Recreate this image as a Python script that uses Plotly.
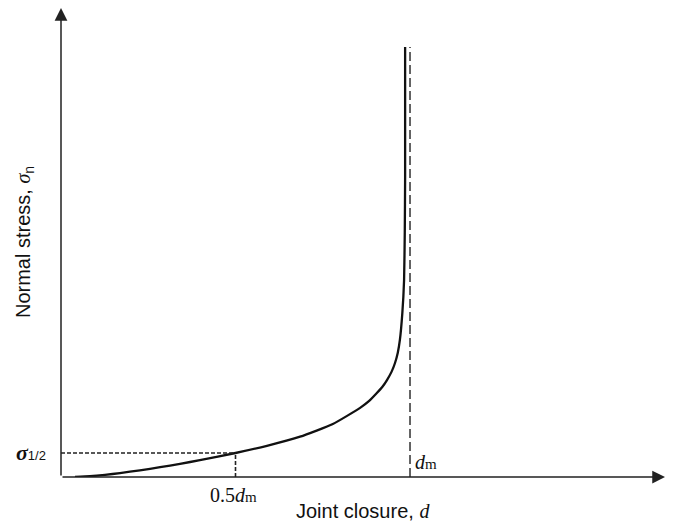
import plotly.graph_objects as go

# Joint closure d (in units of the maximum closure d_m) and normal stress
# (in units of sigma_1/2, the stress at half of the maximum closure)
closure_d = [0.040, 0.083, 0.126, 0.169, 0.226, 0.284, 0.341, 0.398, 0.5,
             0.590, 0.685, 0.779, 0.857, 0.883, 0.905, 0.921, 0.934, 0.947,
             0.957, 0.965, 0.971, 0.978, 0.983, 0.985, 0.986, 0.986]
normal_stress = [0.0, 0.031, 0.088, 0.163, 0.279, 0.408, 0.55, 0.70, 1.0,
                 1.30, 1.68, 2.21, 2.88, 3.17, 3.50, 3.76, 4.04, 4.38,
                 4.75, 5.18, 5.71, 6.83, 8.21, 10.2, 12.5, 17.92]

d_max = 1.0          # maximum closure d_m
d_half = 0.5         # 0.5 d_m
sigma_half = 1.0     # sigma_1/2
dm_line_top = 17.92

x_range = [0, 1.7564]
y_range = [0, 19.875]
axis_tip_x = 1.7307
axis_tip_y = 19.54

SANS = "Liberation Sans, Arial, sans-serif"
SERIF = "Liberation Serif, Times New Roman, serif"
INK = "#111111"
AXIS_COL = "#222222"


def px(v):
    return v / x_range[1]


def py(v):
    return v / y_range[1]


fig = go.Figure()

fig.add_trace(go.Scatter(
    x=closure_d, y=normal_stress, mode="lines",
    line=dict(color=INK, width=2.3, shape="spline", smoothing=0.5),
    hoverinfo="skip", showlegend=False,
))

# dashed guides to sigma_1/2 at 0.5 d_m
fig.add_shape(type="line", x0=0, x1=d_half, y0=sigma_half, y1=sigma_half,
              line=dict(color=AXIS_COL, width=1.6, dash="4px,2px"))
fig.add_shape(type="line", x0=d_half, x1=d_half, y0=0, y1=sigma_half,
              line=dict(color=AXIS_COL, width=1.6, dash="4px,2px"))
# asymptote at d_m
fig.add_shape(type="line", x0=d_max, x1=d_max, y0=0, y1=dm_line_top,
              line=dict(color=AXIS_COL, width=1.4, dash="9px,4px"))

# axes drawn as arrows from the origin
for tx, ty in [(axis_tip_x, 0), (0, axis_tip_y)]:
    fig.add_annotation(x=tx, y=ty, ax=0, ay=0, xref="x", yref="y",
                       axref="x", ayref="y", text="", showarrow=True,
                       arrowhead=2, arrowsize=1.7, arrowwidth=1.5,
                       arrowcolor=AXIS_COL)

# labels (paper coordinates so they may sit outside the plotting area)
fig.add_annotation(
    x=px(0.865), y=py(-1.42), xref="paper", yref="paper", showarrow=False,
    text=f"Joint closure, <span style='font-family:{SERIF}'><i>d</i></span>",
    font=dict(family=SANS, size=20, color=INK),
    xanchor="center", yanchor="middle")
fig.add_annotation(
    x=px(-0.106), y=py(9.79), xref="paper", yref="paper", showarrow=False,
    textangle=-90,
    text=f"Normal stress, <span style='font-family:{SERIF}'><i>σ</i></span><sub>n</sub>",
    font=dict(family=SANS, size=20, color=INK),
    xanchor="center", yanchor="middle")
fig.add_annotation(
    x=px(-0.037), y=py(1.04), xref="paper", yref="paper", showarrow=False,
    text=f"<span style='font-family:{SERIF};font-size:22px'><b><i>σ</i></b></span>"
         f"<span style='font-size:13px'>1/2</span>",
    font=dict(family=SANS, size=15, color=INK),
    xanchor="right", yanchor="middle")
fig.add_annotation(
    x=px(0.493), y=py(-0.75), xref="paper", yref="paper", showarrow=False,
    text="0.5<i>d</i><span style='font-size:15px'>m</span>",
    font=dict(family=SERIF, size=20, color=INK),
    xanchor="center", yanchor="middle")
fig.add_annotation(
    x=px(1.009), y=py(0.625), xref="paper", yref="paper", showarrow=False,
    text="<i>d</i><span style='font-size:15px'>m</span>",
    font=dict(family=SERIF, size=20, color=INK),
    xanchor="left", yanchor="middle")

fig.update_xaxes(range=x_range, visible=False, fixedrange=True)
fig.update_yaxes(range=y_range, visible=False, fixedrange=True)
fig.update_layout(
    width=674, height=526,
    margin=dict(l=61, r=0, t=0, b=49),
    plot_bgcolor="white", paper_bgcolor="white",
    showlegend=False,
)

fig.write_html("out.html")
